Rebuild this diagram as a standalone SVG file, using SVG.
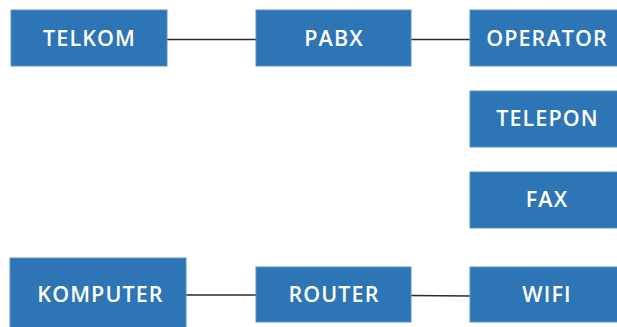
<svg xmlns="http://www.w3.org/2000/svg" width="617" height="327" viewBox="0 0 617 327">
  <style>
    .box { fill: #2E75B6; stroke: #5B93C7; stroke-width: 1; }
    .lbl { fill: #FFFFFF; font-family: "Open Sans", "Liberation Sans", Arial, sans-serif; font-weight: 600; font-size: 21.5px; letter-spacing: 1.1px; text-anchor: middle; }
    .wire { stroke: #2B2B2B; stroke-width: 1.6; fill: none; }
  </style>
  <rect width="617" height="327" fill="#FFFFFF"/>
  <g id="connectors">
    <line class="wire" x1="167" y1="39.5" x2="256" y2="39.5"/>
    <line class="wire" x1="411" y1="39.5" x2="470" y2="39.5"/>
    <line class="wire" x1="186" y1="295" x2="256" y2="295"/>
    <line class="wire" x1="411" y1="295.5" x2="470" y2="296"/>
  </g>
  <g id="telkom">
    <rect class="box" x="11" y="10" width="156" height="56"/>
    <text class="lbl" x="89.5" y="46">TELKOM</text>
  </g>
  <g id="pabx">
    <rect class="box" x="256" y="10" width="155" height="56"/>
    <text class="lbl" x="334" y="46">PABX</text>
  </g>
  <g id="operator">
    <rect class="box" x="470" y="10" width="155" height="56"/>
    <text class="lbl" x="547" y="46">OPERATOR</text>
  </g>
  <g id="telepon">
    <rect class="box" x="470" y="91" width="155" height="56"/>
    <text class="lbl" x="547.5" y="126">TELEPON</text>
  </g>
  <g id="fax">
    <rect class="box" x="470" y="172" width="155" height="56"/>
    <text class="lbl" x="547" y="207">FAX</text>
  </g>
  <g id="komputer">
    <rect class="box" x="10" y="258" width="176" height="75"/>
    <text class="lbl" x="100.5" y="302">KOMPUTER</text>
  </g>
  <g id="router">
    <rect class="box" x="256" y="267" width="155" height="55"/>
    <text class="lbl" x="334" y="302">ROUTER</text>
  </g>
  <g id="wifi">
    <rect class="box" x="470" y="267" width="155" height="55"/>
    <text class="lbl" x="547" y="302">WIFI</text>
  </g>
</svg>
